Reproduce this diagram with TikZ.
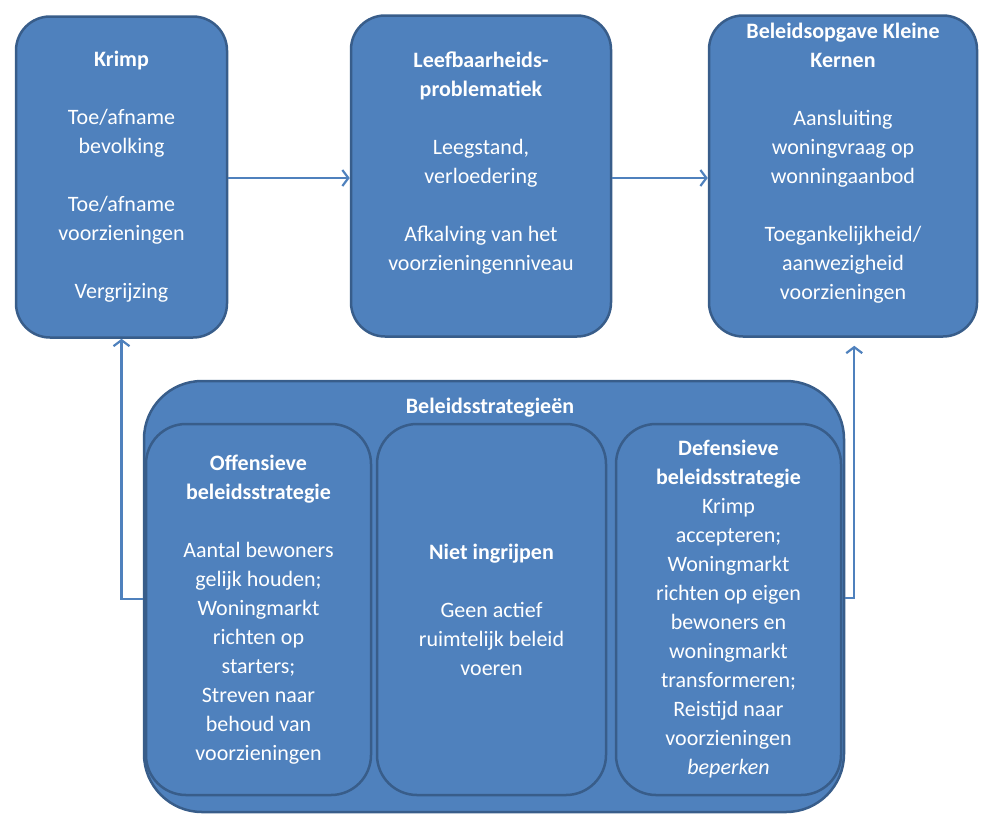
\documentclass[tikz,border=0pt]{standalone}
\usepackage{fontspec}
\setmainfont{Carlito}
\usetikzlibrary{arrows.meta}

\definecolor{boxblue}{HTML}{4F81BD}
\definecolor{boxline}{HTML}{385D8A}

\tikzset{
  box/.style={draw=boxline, fill=boxblue, line width=2.5pt, rounded corners=34pt,
    text=white, align=center, inner sep=0pt, font=\fontsize{22}{29}\selectfont},
  arr/.style={-{Straight Barb[length=6pt,width=16pt]}, draw=boxblue, line width=2.2pt}
}

\begin{document}
\begin{tikzpicture}[x=1pt, y=-1pt]

\useasboundingbox ( 0, 0 ) rectangle ( 994, 815 );

% Top row
\node (krimp) at ( 121.5, 177 ) [box, minimum width=211, minimum height=321]
  {\textbf{Krimp}\\[29pt]Toe/afname\\bevolking\\[29pt]Toe/afname\\voorzieningen\\[29pt]Vergrijzing};
\node (leef) at ( 481, 176 ) [box, minimum width=260, minimum height=321]
  {\textbf{Leefbaarheids-}\\\textbf{problematiek}\\[29pt]Leegstand,\\verloedering\\[29pt]Afkalving van het\\voorzieningenniveau\\ \mbox{}};
\node (opgave) at ( 843, 176 ) [box, minimum width=268, minimum height=321]
  {\textbf{Beleidsopgave Kleine}\\\textbf{Kernen}\\[29pt]Aansluiting\\woningvraag op\\wonningaanbod\\[29pt]Toegankelijkheid/\\aanwezigheid\\voorzieningen\\ \mbox{}};

% Strategies
\node (strat) at ( 494, 596.5 ) [box, rounded corners=58pt, minimum width=700, minimum height=431] {};
\node (title) at ( 490, 408 ) [text=white, font=\fontsize{22}{29}\selectfont\bfseries] {Beleidsstrategieën};

\node (offens) at ( 258.5, 609.5 ) [box, rounded corners=40pt, minimum width=225, minimum height=371]
  {\textbf{Offensieve}\\\textbf{beleidsstrategie}\\[29pt]Aantal bewoners\\gelijk houden;\\Woningmarkt\\richten op\\starters;\\Streven naar\\behoud van\\voorzieningen};
\node (niet) at ( 491.5, 609.5 ) [box, rounded corners=40pt, minimum width=229, minimum height=371]
  {\textbf{Niet ingrijpen}\\[29pt]Geen actief\\ruimtelijk beleid\\voeren};
\node (defens) at ( 728.5, 609.5 ) [box, rounded corners=40pt, minimum width=225, minimum height=371]
  {\textbf{Defensieve}\\\textbf{beleidsstrategie}\\Krimp\\accepteren;\\Woningmarkt\\richten op eigen\\bewoners en\\woningmarkt\\transformeren;\\Reistijd naar\\voorzieningen\\\textit{beperken}};

% Arrows
\draw [arr] (krimp.east |- 0,178) -- (leef.west |- 0,178);
\draw [arr] (leef.east |- 0,178) -- (opgave.west |- 0,178);
\draw [arr] (strat.west |- 0,599) -| (krimp.south);
\draw [arr] (strat.east |- 0,598) -- ++( 9, 0 ) coordinate (rturn) -- ([yshift=-8pt]rturn |- opgave.south);

\end{tikzpicture}
\end{document}
